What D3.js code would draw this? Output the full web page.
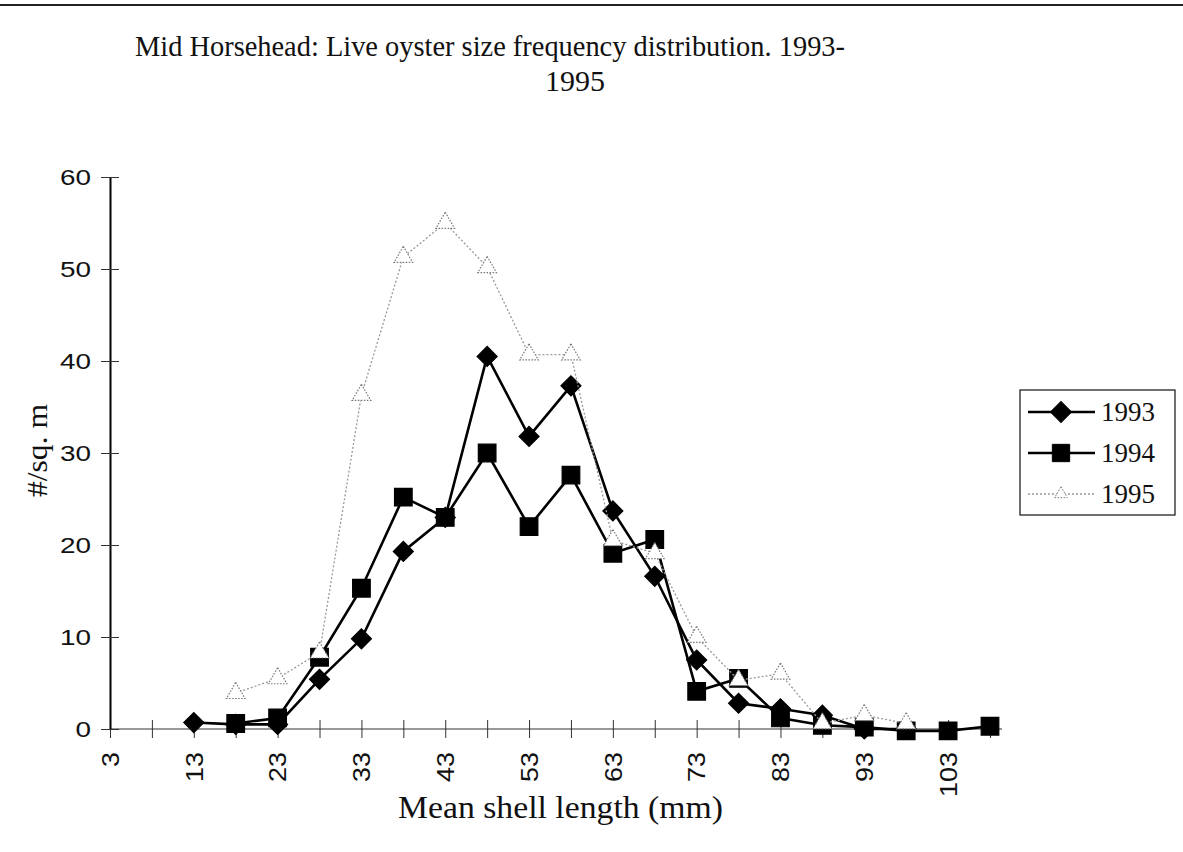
<!DOCTYPE html>
<html>
<head>
<meta charset="utf-8">
<script src="https://cdn.jsdelivr.net/npm/d3@7"></script>
<style>
  body { margin: 0; background: #fff; }
  svg { display: block; }
  .serif { font-family: "Liberation Serif", "Times New Roman", serif; fill: #111; }
  .tick text { font-family: "Liberation Sans", Arial, sans-serif; font-size: 22px; fill: #111; }
</style>
</head>
<body>
<script>
// the data
var categories = [3, 8, 13, 18, 23, 28, 33, 38, 43, 48, 53, 58, 63, 68, 73, 78, 83, 88, 93, 98, 103, 108];
var tickLabels = ["3", "13", "23", "33", "43", "53", "63", "73", "83", "93", "103"];
var yTicks = [0, 10, 20, 30, 40, 50, 60];
var years = ["1993", "1994", "1995"];

var s1993 = [null, null, 0.7, 0.5, 0.5, 5.4, 9.8, 19.3, 23.0, 40.5, 31.8, 37.3, 23.7, 16.6, 7.5, 2.8, 2.2, 1.5, 0, 0, null, null];
var s1994 = [null, null, null, 0.6, 1.2, 7.8, 15.3, 25.2, 23.0, 30.0, 22.0, 27.6, 19.1, 20.6, 4.1, 5.5, 1.2, 0.4, 0.2, -0.2, -0.2, 0.3];
var s1995 = [null, null, null, 3.9, 5.5, 8.3, 36.3, 51.3, 55.0, 50.2, 40.7, 40.7, 20.5, 19.1, 10.0, 5.3, 6.0, 0.6, 1.5, 0.6, null, null];

var width = 1183, height = 852;

var svg = d3.select("body").append("svg")
    .attr("width", width)
    .attr("height", height);

// set the ranges
var x = d3.scalePoint().domain(categories).range([110, 990]);
var y = d3.scaleLinear().domain([0, 60]).range([729, 177]);

// top rule of the scanned page
svg.append("line")
    .attr("x1", 0).attr("x2", width)
    .attr("y1", 5).attr("y2", 5)
    .attr("stroke", "#222").attr("stroke-width", 2);

// title, two lines like the original
svg.append("text").attr("class", "serif")
    .attr("x", 135).attr("y", 56)
    .attr("font-size", 30)
    .attr("textLength", 710).attr("lengthAdjust", "spacingAndGlyphs")
    .text("Mid Horsehead: Live oyster size frequency distribution.  1993-");
svg.append("text").attr("class", "serif")
    .attr("x", 545).attr("y", 91)
    .attr("font-size", 30)
    .attr("textLength", 60).attr("lengthAdjust", "spacingAndGlyphs")
    .text("1995");

// x axis
var xAxis = svg.append("g")
    .attr("transform", "translate(0," + y(0) + ")")
    .call(d3.axisBottom(x)
        .tickSizeOuter(0)
        .tickSize(9)
        .tickFormat(function(d) { return tickLabels.indexOf(String(d)) >= 0 ? String(d) : ""; }));
xAxis.select(".domain").attr("d", "M110,0H1002").attr("stroke", "#777").attr("stroke-width", 1.5);
xAxis.selectAll(".tick line").attr("y1", -9).attr("y2", 9).attr("stroke", "#333");
xAxis.selectAll(".tick text")
    .attr("transform", "rotate(-90)")
    .attr("x", -23).attr("y", 0).attr("dy", "0.36em")
    .style("font-size", "23px")
    .attr("textLength", function(d) { return String(d).length * 15; })
    .attr("lengthAdjust", "spacingAndGlyphs")
    .style("text-anchor", "end");

// y axis
var yAxis = svg.append("g")
    .attr("transform", "translate(110,0)")
    .call(d3.axisLeft(y).tickValues(yTicks).tickSize(9).tickPadding(10).tickSizeOuter(0));
yAxis.select(".domain").attr("stroke", "#000").attr("stroke-width", 2);
yAxis.selectAll(".tick line").attr("x1", -9).attr("x2", 9).attr("stroke", "#333");
yAxis.selectAll(".tick text")
    .attr("textLength", function(d) { return String(d).length * 15.5; })
    .attr("lengthAdjust", "spacingAndGlyphs");

// axis titles
svg.append("text").attr("class", "serif")
    .attr("x", 398).attr("y", 818)
    .attr("font-size", 31)
    .attr("textLength", 325).attr("lengthAdjust", "spacingAndGlyphs")
    .text("Mean shell length (mm)");
svg.append("text").attr("class", "serif")
    .attr("transform", "translate(47,497) rotate(-90)")
    .attr("font-size", 30)
    .attr("textLength", 93).attr("lengthAdjust", "spacingAndGlyphs")
    .text("#/sq. m");

// series styles
var series = [
  {name: "1993", values: s1993, stroke: "#000", width: 2.6, dash: null,
   symbol: d3.symbolSquare, size: 200, rotate: 45, fill: "#000", mstroke: "#000", mdash: null},
  {name: "1994", values: s1994, stroke: "#000", width: 2.6, dash: null,
   symbol: d3.symbolSquare, size: 310, rotate: 0, fill: "#000", mstroke: "#000", mdash: null},
  {name: "1995", values: s1995, stroke: "#999", width: 1.3, dash: "2,2",
   symbol: d3.symbolTriangle, size: 150, rotate: 0, fill: "#fff", mstroke: "#777", mdash: "1.5,1.5"}
];

var valueline = d3.line()
    .defined(function(d) { return d.v !== null; })
    .x(function(d) { return x(d.c); })
    .y(function(d) { return y(d.v); });

series.forEach(function(s) {
  var pts = categories.map(function(c, i) { return {c: c, v: s.values[i]}; });

  svg.append("path")
      .datum(pts)
      .attr("fill", "none")
      .attr("stroke", s.stroke)
      .attr("stroke-width", s.width)
      .attr("stroke-dasharray", s.dash)
      .attr("d", valueline);

  svg.selectAll(".m" + s.name)
      .data(pts.filter(function(d) { return d.v !== null; }))
    .enter().append("path")
      .attr("transform", function(d) {
        return "translate(" + x(d.c) + "," + y(d.v) + ") rotate(" + s.rotate + ")";
      })
      .attr("d", d3.symbol().type(s.symbol).size(s.size))
      .attr("fill", s.fill)
      .attr("stroke", s.mstroke)
      .attr("stroke-width", 1.2)
      .attr("stroke-dasharray", s.mdash);
});

// legend
var legend = svg.append("g");
legend.append("rect")
    .attr("x", 1020).attr("y", 390)
    .attr("width", 155).attr("height", 125)
    .attr("fill", "#fff").attr("stroke", "#111").attr("stroke-width", 1.2);

var legendSizes = [220, 300, 70];
series.forEach(function(s, i) {
  var cy = 412 + i * 41;
  legend.append("line")
      .attr("x1", 1028).attr("x2", 1095)
      .attr("y1", cy).attr("y2", cy)
      .attr("stroke", s.stroke)
      .attr("stroke-width", s.width)
      .attr("stroke-dasharray", s.dash);
  legend.append("path")
      .attr("transform", "translate(1061," + cy + ") rotate(" + s.rotate + ")")
      .attr("d", d3.symbol().type(s.symbol).size(legendSizes[i]))
      .attr("fill", s.fill)
      .attr("stroke", s.mstroke)
      .attr("stroke-width", 1)
      .attr("stroke-dasharray", s.mdash);
  legend.append("text").attr("class", "serif")
      .attr("x", 1101).attr("y", cy + 9)
      .attr("font-size", 27)
      .text(years[i]);
});
</script>
</body>
</html>
